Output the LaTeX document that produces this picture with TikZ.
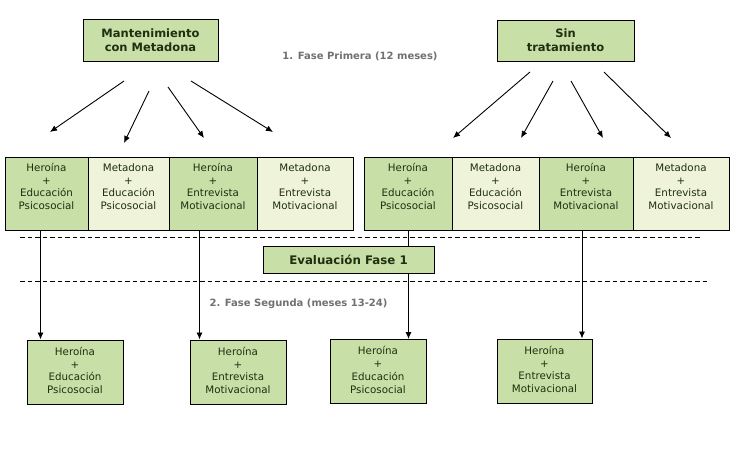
\documentclass[tikz,border=0pt]{standalone}
\usepackage{fontspec}
\setmainfont{DejaVu Sans}
\usetikzlibrary{arrows.meta}
\definecolor{dkg}{HTML}{C9DFA8}
\definecolor{ltg}{HTML}{EEF3DA}
\definecolor{txtc}{HTML}{1F2F0F}
\definecolor{lblc}{HTML}{707070}
\newcommand{\celltext}[1]{\raisebox{5.5pt}[\height][\depth]{\begin{tabular}{@{}c@{}}#1\end{tabular}}}
\newcommand{\boxtext}[1]{\begin{tabular}{@{}c@{}}#1\end{tabular}}
\begin{document}
\begin{tikzpicture}[x=1pt,y=-1pt,
  cellbase/.style={draw=black, line width=1pt, inner sep=0pt, text=txtc,
    font=\fontsize{10.3}{12.7}\selectfont, minimum height=73pt},
  dkcell/.style={cellbase, fill=dkg},
  ltcell/.style={cellbase, fill=ltg},
  titlebox/.style={draw=black, fill=dkg, line width=1pt, inner sep=0pt, text=txtc,
    font=\bfseries\fontsize{11.5}{14.4}\selectfont, align=center},
  botbox/.style={draw=black, fill=dkg, line width=1pt, inner sep=0pt, text=txtc,
    font=\fontsize{10.3}{12.7}\selectfont, minimum width=96pt, minimum height=64pt},
  lbl/.style={font=\bfseries\fontsize{10}{12}\selectfont, text=lblc, inner sep=0pt},
  arr/.style={-{Latex[length=7pt,width=6pt]}, line width=0.9pt},
  dline/.style={dash pattern=on 4.5pt off 3pt, line width=1pt}]
\useasboundingbox (0,0) rectangle (741,472);

% top title boxes
\node[titlebox, minimum width=135pt, minimum height=42pt] (mant) at (150.5,40) {Mantenimiento\\con Metadona};
\node[titlebox, minimum width=137pt, minimum height=41pt] (sin) at (565.5,40.5) {Sin\\tratamiento};
\node[lbl] (fase1) at (360,56) {1. Fase Primera (12 meses)};

% left row of cells
\node[dkcell, minimum width=83pt] (l1) at (46.5,193.5) {\celltext{Heroína\\+\\Educación\\Psicosocial}};
\node[ltcell, minimum width=81pt] (l2) at (128.5,193.5) {\celltext{Metadona\\+\\Educación\\Psicosocial}};
\node[dkcell, minimum width=88pt] (l3) at (213,193.5) {\celltext{Heroína\\+\\Entrevista\\Motivacional}};
\node[ltcell, minimum width=96pt] (l4) at (305,193.5) {\celltext{Metadona\\+\\Entrevista\\Motivacional}};

% right row of cells
\node[dkcell, minimum width=88pt] (r1) at (408,193.5) {\celltext{Heroína\\+\\Educación\\Psicosocial}};
\node[ltcell, minimum width=87pt] (r2) at (495.5,193.5) {\celltext{Metadona\\+\\Educación\\Psicosocial}};
\node[dkcell, minimum width=94pt] (r3) at (586,193.5) {\celltext{Heroína\\+\\Entrevista\\Motivacional}};
\node[ltcell, minimum width=96pt] (r4) at (681,193.5) {\celltext{Metadona\\+\\Entrevista\\Motivacional}};

% floating diagonal arrows
\coordinate (a1s) at (124,81);  \coordinate (a1e) at (50,132);
\coordinate (a2s) at (149,91);  \coordinate (a2e) at (124,143);
\coordinate (a3s) at (168,87);  \coordinate (a3e) at (204,138);
\coordinate (a4s) at (191,81);  \coordinate (a4e) at (273,132);
\coordinate (b1s) at (530,72);  \coordinate (b1e) at (453,138);
\coordinate (b2s) at (553,81);  \coordinate (b2e) at (521,138);
\coordinate (b3s) at (571,81);  \coordinate (b3e) at (603,138);
\coordinate (b4s) at (604,72);  \coordinate (b4e) at (671,138);
\foreach \s/\e in {a1s/a1e,a2s/a2e,a3s/a3e,a4s/a4e,b1s/b1e,b2s/b2e,b3s/b3e,b4s/b4e}
  \draw[arr] (\s) -- (\e);

% bottom boxes
\node[botbox] (m1) at (75,372) {\boxtext{Heroína\\+\\Educación\\Psicosocial}};
\node[botbox] (m2) at (238,372) {\boxtext{Heroína\\+\\Entrevista\\Motivacional}};
\node[botbox] (m3) at (378,371.5) {\boxtext{Heroína\\+\\Educación\\Psicosocial}};
\node[botbox, minimum width=95pt] (m4) at (544.5,371) {\boxtext{Heroína\\+\\Entrevista\\Motivacional}};

% dashed separators
\coordinate (d1a) at (20,237);  \coordinate (d1b) at (701,237);
\coordinate (d2a) at (20,281);  \coordinate (d2b) at (708,281);
\draw[dline] (d1a) -- (d1b);
\draw[dline] (d2a) -- (d2b);

% vertical arrows
\draw[arr] ([xshift=-6pt]l1.south) -- ([xshift=-34.5pt]m1.north);
\draw[arr] ([xshift=-13.5pt]l3.south) -- ([xshift=-38.5pt]m2.north);
\draw[arr] ([xshift=0.5pt]r1.south) -- ([xshift=30.5pt]m3.north);
\draw[arr] ([xshift=-4pt]r3.south) -- ([xshift=37.5pt]m4.north);

% evaluation box (on top of the arrow)
\node[titlebox, font=\bfseries\fontsize{11.8}{14}\selectfont, minimum width=171pt, minimum height=27pt] (eval) at (348.5,259.5) {Evaluación Fase 1};
\node[lbl] (fase2) at (298.5,304) {2. Fase Segunda (meses 13-24)};
\end{tikzpicture}
\end{document}
